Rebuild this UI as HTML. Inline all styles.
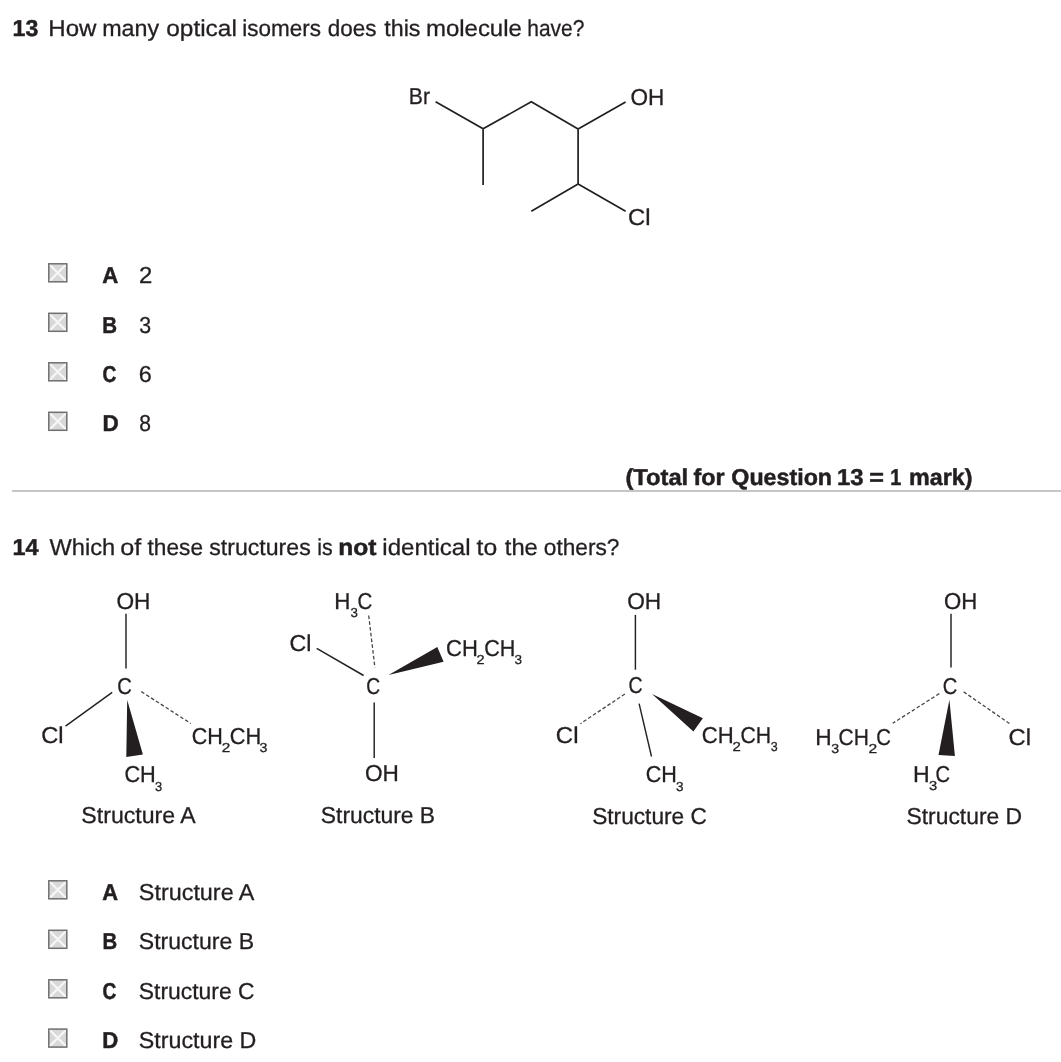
<!DOCTYPE html>
<html><head><meta charset="utf-8">
<style>
html,body{margin:0;padding:0;background:#fff;width:1061px;height:1062px;overflow:hidden}
svg{display:block;text-rendering:geometricPrecision;will-change:transform}
text{font-family:"Liberation Sans",sans-serif;fill:#231f20;stroke:#231f20;stroke-width:0.3;white-space:pre}
.b{font-weight:bold;stroke-width:0.5}
.ln{stroke:#231f20;stroke-width:1.7;fill:none}
.ln2{stroke:#231f20;stroke-width:1.45;fill:none}
.thin{stroke:#231f20;stroke-width:1.4;fill:none}
.dash{stroke:#484848;stroke-width:1.3;fill:none;stroke-dasharray:3.6 2.2}
.wg{fill:#231f20}
</style></head>
<body>
<svg width="1061" height="1062" viewBox="0 0 1061 1062">
<text class="b" x="12.55" y="35.50" font-size="23" textLength="25.69" lengthAdjust="spacingAndGlyphs">13</text>
<text x="48.33" y="35.50" font-size="23" textLength="48.11" lengthAdjust="spacingAndGlyphs">How</text>
<text x="102.15" y="35.50" font-size="23" textLength="56.99" lengthAdjust="spacingAndGlyphs">many</text>
<text x="166.28" y="35.50" font-size="23" textLength="70.56" lengthAdjust="spacingAndGlyphs">optical</text>
<text x="242.30" y="35.50" font-size="23" textLength="78.72" lengthAdjust="spacingAndGlyphs">isomers</text>
<text x="327.86" y="35.50" font-size="23" textLength="48.65" lengthAdjust="spacingAndGlyphs">does</text>
<text x="384.25" y="35.50" font-size="23" textLength="36.19" lengthAdjust="spacingAndGlyphs">this</text>
<text x="425.91" y="35.50" font-size="23" textLength="95.96" lengthAdjust="spacingAndGlyphs">molecule</text>
<text x="527.25" y="35.50" font-size="23" textLength="57.03" lengthAdjust="spacingAndGlyphs">have?</text>
<text x="408.86" y="104.20" font-size="23" textLength="21.19" lengthAdjust="spacingAndGlyphs">Br</text>
<text x="630.53" y="104.60" font-size="23" textLength="33.81" lengthAdjust="spacingAndGlyphs">OH</text>
<text x="628.09" y="225.20" font-size="23" textLength="22.50" lengthAdjust="spacingAndGlyphs">Cl</text>
<path class="ln" d="M435.6 101.8L483.1 128.8L531.3 101.8L578.1 129L625.6 101.9M483.1 128.8L483.1 184.9M578.1 129L578.1 184.1M531.3 211.2L578.1 184.1L625.6 211.2"/>
<g transform="translate(48 263.00)"><rect x="0.5" y="0.5" width="18.6" height="18.6" fill="#d8d8d8"/>
<path d="M1 1L18.6 18.6M18.6 1L1 18.6" stroke="#f6f6f6" stroke-width="2.2"/>
<rect x="0.8" y="0.8" width="18" height="18" fill="none" stroke="#707070" stroke-width="1.5"/></g>
<text class="b" x="102.35" y="283.00" font-size="23" textLength="16.04" lengthAdjust="spacingAndGlyphs">A</text>
<text x="139.00" y="283.00" font-size="23" textLength="13.31" lengthAdjust="spacingAndGlyphs">2</text>
<g transform="translate(48 312.50)"><rect x="0.5" y="0.5" width="18.6" height="18.6" fill="#d8d8d8"/>
<path d="M1 1L18.6 18.6M18.6 1L1 18.6" stroke="#f6f6f6" stroke-width="2.2"/>
<rect x="0.8" y="0.8" width="18" height="18" fill="none" stroke="#707070" stroke-width="1.5"/></g>
<text class="b" x="102.33" y="332.60" font-size="23" textLength="14.80" lengthAdjust="spacingAndGlyphs">B</text>
<text x="139.19" y="332.60" font-size="23" textLength="11.85" lengthAdjust="spacingAndGlyphs">3</text>
<g transform="translate(48 362.00)"><rect x="0.5" y="0.5" width="18.6" height="18.6" fill="#d8d8d8"/>
<path d="M1 1L18.6 18.6M18.6 1L1 18.6" stroke="#f6f6f6" stroke-width="2.2"/>
<rect x="0.8" y="0.8" width="18" height="18" fill="none" stroke="#707070" stroke-width="1.5"/></g>
<text class="b" x="102.52" y="382.00" font-size="23" textLength="13.81" lengthAdjust="spacingAndGlyphs">C</text>
<text x="138.81" y="382.00" font-size="23" textLength="13.02" lengthAdjust="spacingAndGlyphs">6</text>
<g transform="translate(48 411.50)"><rect x="0.5" y="0.5" width="18.6" height="18.6" fill="#d8d8d8"/>
<path d="M1 1L18.6 18.6M18.6 1L1 18.6" stroke="#f6f6f6" stroke-width="2.2"/>
<rect x="0.8" y="0.8" width="18" height="18" fill="none" stroke="#707070" stroke-width="1.5"/></g>
<text class="b" x="102.49" y="431.40" font-size="23" textLength="16.25" lengthAdjust="spacingAndGlyphs">D</text>
<text x="139.28" y="431.40" font-size="23" textLength="11.73" lengthAdjust="spacingAndGlyphs">8</text>
<text class="b" x="625.45" y="484.60" font-size="23" textLength="62.78" lengthAdjust="spacingAndGlyphs">(Total</text>
<text class="b" x="693.50" y="484.60" font-size="23" textLength="31.05" lengthAdjust="spacingAndGlyphs">for</text>
<text class="b" x="731.35" y="484.60" font-size="23" textLength="100.69" lengthAdjust="spacingAndGlyphs">Question</text>
<text class="b" x="837.00" y="484.60" font-size="23" textLength="26.57" lengthAdjust="spacingAndGlyphs">13</text>
<text class="b" x="869.26" y="484.60" font-size="23" textLength="14.67" lengthAdjust="spacingAndGlyphs">=</text>
<text class="b" x="890.25" y="484.60" font-size="23" textLength="11.00" lengthAdjust="spacingAndGlyphs">1</text>
<text class="b" x="909.07" y="484.60" font-size="23" textLength="63.39" lengthAdjust="spacingAndGlyphs">mark)</text>
<rect x="12" y="490" width="1049" height="2" fill="#c6c6c6"/>
<text class="b" x="12.53" y="554.50" font-size="23" textLength="26.00" lengthAdjust="spacingAndGlyphs">14</text>
<text x="49.50" y="554.50" font-size="23" textLength="65.64" lengthAdjust="spacingAndGlyphs">Which</text>
<text x="120.24" y="554.50" font-size="23" textLength="21.02" lengthAdjust="spacingAndGlyphs">of</text>
<text x="147.56" y="554.50" font-size="23" textLength="55.45" lengthAdjust="spacingAndGlyphs">these</text>
<text x="209.26" y="554.50" font-size="23" textLength="101.48" lengthAdjust="spacingAndGlyphs">structures</text>
<text x="317.27" y="554.50" font-size="23" textLength="15.40" lengthAdjust="spacingAndGlyphs">is</text>
<text class="b" x="338.18" y="554.50" font-size="23" textLength="38.22" lengthAdjust="spacingAndGlyphs">not</text>
<text x="382.29" y="554.50" font-size="23" textLength="88.32" lengthAdjust="spacingAndGlyphs">identical</text>
<text x="476.63" y="554.50" font-size="23" textLength="20.61" lengthAdjust="spacingAndGlyphs">to</text>
<text x="504.84" y="554.50" font-size="23" textLength="33.01" lengthAdjust="spacingAndGlyphs">the</text>
<text x="543.85" y="554.50" font-size="23" textLength="75.59" lengthAdjust="spacingAndGlyphs">others?</text>
<text x="116.43" y="609.00" font-size="23" textLength="34.02" lengthAdjust="spacingAndGlyphs">OH</text>
<path class="ln2" d="M126 613.8V668.6"/>
<text x="117.37" y="693.60" font-size="23" textLength="14.60" lengthAdjust="spacingAndGlyphs">C</text>
<text x="41.20" y="743.00" font-size="23" textLength="22.39" lengthAdjust="spacingAndGlyphs">Cl</text>
<path class="ln2" d="M65.5 726.1L112.2 692.4"/>
<path class="wg" d="M127.20 700.00 L126.30 756.90 L142.90 754.50 Z"/>
<path class="dash" d="M141.3 691.6L190.8 723.5"/>
<text x="191.70" y="743.60" font-size="23" textLength="31.15" lengthAdjust="spacingAndGlyphs">CH</text>
<text x="221.73" y="751.60" font-size="13" textLength="8.55" lengthAdjust="spacingAndGlyphs">2</text>
<text x="229.69" y="743.60" font-size="23" textLength="31.48" lengthAdjust="spacingAndGlyphs">CH</text>
<text x="259.46" y="751.60" font-size="13" textLength="7.86" lengthAdjust="spacingAndGlyphs">3</text>
<text x="124.40" y="781.80" font-size="23" textLength="31.37" lengthAdjust="spacingAndGlyphs">CH</text>
<text x="155.11" y="790.50" font-size="13" textLength="7.16" lengthAdjust="spacingAndGlyphs">3</text>
<text x="81.36" y="823.30" font-size="23" textLength="114.38" lengthAdjust="spacingAndGlyphs">Structure A</text>
<text x="334.26" y="608.60" font-size="23" textLength="16.16" lengthAdjust="spacingAndGlyphs">H</text>
<text x="350.49" y="616.50" font-size="13" textLength="7.39" lengthAdjust="spacingAndGlyphs">3</text>
<text x="357.46" y="608.80" font-size="23" textLength="14.82" lengthAdjust="spacingAndGlyphs">C</text>
<path class="dash" d="M368.7 615.5L374.9 667.6"/>
<text x="289.52" y="651.40" font-size="23" textLength="21.93" lengthAdjust="spacingAndGlyphs">Cl</text>
<path class="ln2" d="M316.7 648.3L363.6 675.5"/>
<text x="366.32" y="693.60" font-size="23" textLength="13.91" lengthAdjust="spacingAndGlyphs">C</text>
<path class="wg" d="M388.50 675.00 L437.30 647.00 L443.60 661.80 Z"/>
<text x="446.08" y="655.90" font-size="23" textLength="31.81" lengthAdjust="spacingAndGlyphs">CH</text>
<text x="476.57" y="663.60" font-size="13" textLength="8.06" lengthAdjust="spacingAndGlyphs">2</text>
<text x="484.20" y="655.90" font-size="23" textLength="31.15" lengthAdjust="spacingAndGlyphs">CH</text>
<text x="514.49" y="663.60" font-size="13" textLength="7.51" lengthAdjust="spacingAndGlyphs">3</text>
<path class="ln2" d="M374.2 702.5V757.9"/>
<text x="364.93" y="781.40" font-size="23" textLength="33.91" lengthAdjust="spacingAndGlyphs">OH</text>
<text x="320.86" y="823.10" font-size="23" textLength="114.24" lengthAdjust="spacingAndGlyphs">Structure B</text>
<text x="627.13" y="609.00" font-size="23" textLength="34.02" lengthAdjust="spacingAndGlyphs">OH</text>
<path class="ln2" d="M635.4 614.9V669.7"/>
<text x="628.61" y="693.40" font-size="23" textLength="14.14" lengthAdjust="spacingAndGlyphs">C</text>
<path class="dash" d="M624.9 694L580.4 723.7"/>
<text x="555.88" y="742.60" font-size="23" textLength="22.62" lengthAdjust="spacingAndGlyphs">Cl</text>
<path class="thin" d="M639.1 703.6L651.5 756.5"/>
<path class="wg" d="M652.00 694.10 L702.90 718.20 L693.40 731.60 Z"/>
<text x="701.78" y="743.40" font-size="23" textLength="31.92" lengthAdjust="spacingAndGlyphs">CH</text>
<text x="732.55" y="751.20" font-size="13" textLength="8.30" lengthAdjust="spacingAndGlyphs">2</text>
<text x="740.42" y="743.40" font-size="23" textLength="30.71" lengthAdjust="spacingAndGlyphs">CH</text>
<text x="770.73" y="751.20" font-size="13" textLength="6.92" lengthAdjust="spacingAndGlyphs">3</text>
<text x="645.70" y="781.50" font-size="23" textLength="31.15" lengthAdjust="spacingAndGlyphs">CH</text>
<text x="675.99" y="790.60" font-size="13" textLength="7.51" lengthAdjust="spacingAndGlyphs">3</text>
<text x="592.17" y="823.50" font-size="23" textLength="114.69" lengthAdjust="spacingAndGlyphs">Structure C</text>
<text x="944.05" y="609.00" font-size="23" textLength="33.26" lengthAdjust="spacingAndGlyphs">OH</text>
<path class="ln2" d="M951 613.7V667.5"/>
<text x="942.87" y="693.60" font-size="23" textLength="14.60" lengthAdjust="spacingAndGlyphs">C</text>
<path class="dash" d="M939.3 693.6L892.7 723.3"/>
<path class="dash" d="M963.6 691.8L1010.7 724.4"/>
<text x="815.13" y="744.60" font-size="23" textLength="16.42" lengthAdjust="spacingAndGlyphs">H</text>
<text x="831.36" y="753.00" font-size="13" textLength="7.86" lengthAdjust="spacingAndGlyphs">3</text>
<text x="838.53" y="744.60" font-size="23" textLength="30.38" lengthAdjust="spacingAndGlyphs">CH</text>
<text x="868.52" y="753.00" font-size="13" textLength="8.67" lengthAdjust="spacingAndGlyphs">2</text>
<text x="876.37" y="744.60" font-size="23" textLength="14.71" lengthAdjust="spacingAndGlyphs">C</text>
<text x="1008.49" y="744.90" font-size="23" textLength="22.50" lengthAdjust="spacingAndGlyphs">Cl</text>
<path class="wg" d="M949.40 699.70 L938.50 755.00 L954.90 756.00 Z"/>
<text x="912.91" y="781.50" font-size="23" textLength="16.68" lengthAdjust="spacingAndGlyphs">H</text>
<text x="929.04" y="790.40" font-size="13" textLength="8.21" lengthAdjust="spacingAndGlyphs">3</text>
<text x="935.57" y="781.50" font-size="23" textLength="14.60" lengthAdjust="spacingAndGlyphs">C</text>
<text x="906.46" y="823.50" font-size="23" textLength="115.63" lengthAdjust="spacingAndGlyphs">Structure D</text>
<g transform="translate(48 880.00)"><rect x="0.5" y="0.5" width="18.6" height="18.6" fill="#d8d8d8"/>
<path d="M1 1L18.6 18.6M18.6 1L1 18.6" stroke="#f6f6f6" stroke-width="2.2"/>
<rect x="0.8" y="0.8" width="18" height="18" fill="none" stroke="#707070" stroke-width="1.5"/></g>
<text class="b" x="102.15" y="900.00" font-size="23" textLength="15.82" lengthAdjust="spacingAndGlyphs">A</text>
<text x="138.85" y="900.00" font-size="23" textLength="115.59" lengthAdjust="spacingAndGlyphs">Structure A</text>
<g transform="translate(48 929.50)"><rect x="0.5" y="0.5" width="18.6" height="18.6" fill="#d8d8d8"/>
<path d="M1 1L18.6 18.6M18.6 1L1 18.6" stroke="#f6f6f6" stroke-width="2.2"/>
<rect x="0.8" y="0.8" width="18" height="18" fill="none" stroke="#707070" stroke-width="1.5"/></g>
<text class="b" x="102.44" y="949.40" font-size="23" textLength="14.68" lengthAdjust="spacingAndGlyphs">B</text>
<text x="138.85" y="949.40" font-size="23" textLength="115.16" lengthAdjust="spacingAndGlyphs">Structure B</text>
<g transform="translate(48 979.00)"><rect x="0.5" y="0.5" width="18.6" height="18.6" fill="#d8d8d8"/>
<path d="M1 1L18.6 18.6M18.6 1L1 18.6" stroke="#f6f6f6" stroke-width="2.2"/>
<rect x="0.8" y="0.8" width="18" height="18" fill="none" stroke="#707070" stroke-width="1.5"/></g>
<text class="b" x="102.52" y="999.00" font-size="23" textLength="13.81" lengthAdjust="spacingAndGlyphs">C</text>
<text x="138.86" y="999.00" font-size="23" textLength="115.61" lengthAdjust="spacingAndGlyphs">Structure C</text>
<g transform="translate(48 1028.30)"><rect x="0.5" y="0.5" width="18.6" height="18.6" fill="#d8d8d8"/>
<path d="M1 1L18.6 18.6M18.6 1L1 18.6" stroke="#f6f6f6" stroke-width="2.2"/>
<rect x="0.8" y="0.8" width="18" height="18" fill="none" stroke="#707070" stroke-width="1.5"/></g>
<text class="b" x="102.32" y="1048.00" font-size="23" textLength="16.01" lengthAdjust="spacingAndGlyphs">D</text>
<text x="138.85" y="1048.00" font-size="23" textLength="117.47" lengthAdjust="spacingAndGlyphs">Structure D</text>
</svg>
</body></html>
